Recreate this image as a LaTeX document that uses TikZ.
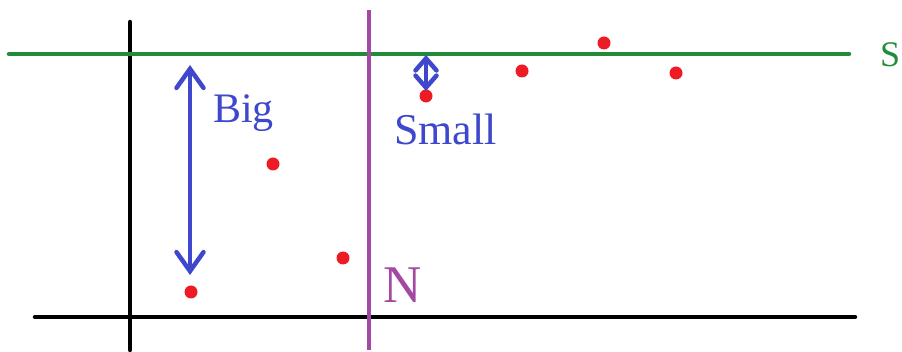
\documentclass[tikz,border=0pt]{standalone}
\usepackage{fontspec}
\setmainfont{Liberation Serif}
\usetikzlibrary{arrows.meta}
\definecolor{lgreen}{RGB}{34,139,58}
\definecolor{lblue}{RGB}{63,72,204}
\definecolor{lred}{RGB}{237,28,36}
\definecolor{lpurple}{RGB}{163,73,164}
\tikzset{
  axis/.style={line width=4.5pt, line cap=round},
  dot/.style={circle, fill=lred, inner sep=0pt, minimum size=13pt},
  dbl/.style 2 args={lblue, line width=4.5pt, line cap=round,
    {Straight Barb[length=#1pt, width=#2pt, line width=4.5pt, line cap=round]}-{Straight Barb[length=#1pt, width=#2pt, line width=4.5pt, line cap=round]}},
  lbl/.style={inner sep=0pt, anchor=base west}
}
\begin{document}
\begin{tikzpicture}[x=1pt,y=-1pt]
\useasboundingbox (0,0) rectangle (902,352);
% axes
\coordinate (vt) at (130,22); \coordinate (vb) at (130,350);
\coordinate (hl) at (35,317); \coordinate (hr) at (855,317);
\draw[axis, black] (vt) -- (vb);
\draw[axis, black] (hl) -- (hr);
% green S line
\coordinate (sl) at (9,54); \coordinate (sr) at (849,54);
\draw[axis, lgreen] (sl) -- (sr);
% purple N line
\coordinate (nt) at (369,10); \coordinate (nb) at (369,350);
\draw[axis, lpurple, line cap=butt] (nt) -- (nb);
% dots
\node[dot] (d1) at (191,292) {};
\node[dot] (d2) at (273,164) {};
\node[dot] (d3) at (343,258) {};
\node[dot] (d4) at (426,96) {};
\node[dot] (d5) at (522,71) {};
\node[dot] (d6) at (604,43) {};
\node[dot] (d7) at (676,73) {};
% arrows
\coordinate (bt) at (190,65); \coordinate (bb) at (190,275);
\draw[dbl={19}{27}] (bt) -- (bb);
\coordinate (st) at (426,55); \coordinate (sb) at (426,91);
\draw[dbl={12}{21}] (st) -- (sb);
% labels
\node[lbl, lblue, font=\fontsize{42}{48}\selectfont] (big) at (213,123) {Big};
\node[lbl, lblue, font=\fontsize{44}{50}\selectfont] (small) at (394,145) {Small};
\node[lbl, lpurple, font=\fontsize{53}{60}\selectfont] (N) at (383,303) {N};
\node[lbl, lgreen, font=\fontsize{36}{42}\selectfont] (S) at (880,67) {S};
\end{tikzpicture}
\end{document}
